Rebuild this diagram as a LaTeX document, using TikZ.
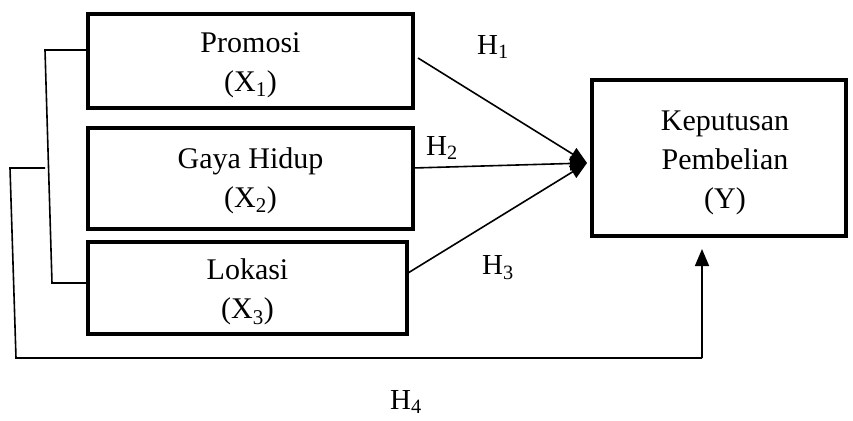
\documentclass[tikz,border=0pt]{standalone}
\usepackage{fontspec}
\setmainfont{Liberation Serif}
\usetikzlibrary{arrows.meta}
\begin{document}
\begin{tikzpicture}[x=1pt,y=-1pt,
  box/.style={draw,line width=4.5pt,rectangle,inner sep=0pt},
  txt/.style={inner sep=0pt,align=center,font=\fontsize{30}{39}\selectfont},
  conn/.style={line width=1.6pt},
  arr/.style={line width=1.6pt,-{Triangle[length=17pt,width=14pt]}},
  hlab/.style={font=\fontsize{29}{34}\selectfont,inner sep=0pt}]
\useasboundingbox (0,0) rectangle (853,420);
\node[box,minimum width=325pt,minimum height=94pt] (p) at (250.5,61) {};
\node[box,minimum width=325pt,minimum height=101pt] (g) at (250.5,178.5) {};
\node[box,minimum width=319pt,minimum height=92pt] (l) at (247.5,288) {};
\node[box,minimum width=254pt,minimum height=156pt] (k) at (719,158) {};
\node[txt] (pt) at ([yshift=-4pt]p.center) {Promosi\\(X\textsubscript{1})};
\node[txt] (gt) at ([yshift=-2pt]g.center) {Gaya Hidup\\(X\textsubscript{2})};
\node[txt] (lt) at ([yshift=-4pt]l.center) {Lokasi\\(X\textsubscript{3})};
\node[txt] (kt) at ([yshift=-5pt,xshift=6pt]k.center) {Keputusan\\Pembelian\\(Y)};
\coordinate (t) at (587,163);
\coordinate (p1) at (418,58);
\coordinate (g1) at (413,168);
\coordinate (l1) at (408,273);
\draw[arr] (p1) -- (t);
\draw[arr] (g1) -- (t);
\draw[arr] (l1) -- (t);
\node[hlab] (h1) at (493,47) {H\textsubscript{1}};
\node[hlab] (h2) at (442,148) {H\textsubscript{2}};
\node[hlab] (h3) at (498,268) {H\textsubscript{3}};
\node[hlab] (h4) at (406,402) {H\textsubscript{4}};
\coordinate (b1) at (45,50);
\coordinate (b2) at (52,283);
\coordinate (m) at (45,168);
\coordinate (c1) at (10,168);
\coordinate (c2) at (16,358);
\coordinate (c3) at (702,358);
\coordinate (c4) at (702,249);
\draw[conn] (p.west |- b1) -- (b1) -- (b2) -- (l.west |- b2);
\draw[conn] (m) -- (c1) -- (c2) -- (c3);
\draw[arr] (c3) -- (c4);
\end{tikzpicture}
\end{document}
